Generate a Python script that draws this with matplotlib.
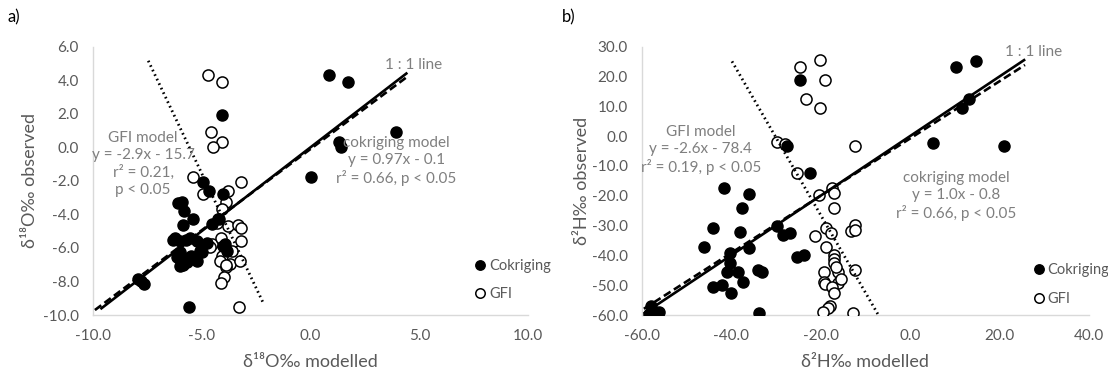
import numpy as np
import matplotlib
matplotlib.use('Agg')
import matplotlib.pyplot as plt

plt.rcParams['font.family'] = ['Lato', 'DejaVu Sans']

# ---- panel a: d18O ----
A_COK_X = [-7.91, -7.65, -7.80, -6.22, -5.99, -6.14, -5.68, -5.99, -5.84, -6.07,
           -5.91, -5.81, -5.38, -5.84, -5.53, -5.20, -4.77, -5.23, -5.07, -4.54,
           -4.20, -3.93, -3.85, -4.00, -4.92, -4.64, -4.02, -5.56, -4.07, 0.84,
           1.74, 3.92, 1.31, 1.41, 0.03, -6.30, -5.70, -6.00, -5.50, -5.80, -5.00]
A_COK_Y = [-7.86, -8.15, -7.95, -5.43, -6.26, -6.56, -6.86, -7.06, -7.00, -3.32,
           -3.24, -3.78, -4.28, -4.63, -5.43, -5.60, -5.71, -6.76, -6.17, -4.57,
           -4.30, -5.77, -6.17, -5.90, -2.09, -2.59, -2.78, -9.50, 1.93, 4.30,
           3.90, 0.90, 0.30, 0.00, -1.80, -5.50, -5.50, -5.60, -6.50, -6.60, -6.26]
A_GFI_X = [-4.73, -4.07, -4.56, -4.07, -4.48, -5.38, -4.92, -3.77, -3.20, -3.87,
           -4.07, -4.24, -3.81, -3.35, -3.20, -4.53, -4.10, -3.20, -4.61, -4.08,
           -4.16, -3.70, -3.24, -3.90, -3.99, -4.10, -3.27, -4.30, -3.60, -3.90]
A_GFI_Y = [4.30, 3.90, 0.90, 0.30, 0.00, -1.79, -2.78, -2.62, -2.09, -3.28,
           -3.68, -4.28, -4.67, -4.63, -4.81, -5.77, -5.41, -5.57, -5.96, -6.46,
           -6.76, -6.96, -6.76, -7.16, -7.75, -8.09, -9.54, -4.50, -6.20, -7.00]
A_ONE_X = [-9.6, 4.4]
A_COK_FIT = (0.97, -0.1, -9.9, 4.45)   # slope, intercept, x0, x1
A_GFI_LINE_X = [-7.45, -2.15]
A_GFI_LINE_Y = [5.16, -9.34]

# ---- panel b: d2H ----
B_COK_X = [-57.8, -56.1, -58.3, -46.0, -44.0, -41.5, -36.0, -37.6, -38.0, -29.75,
           -28.4, -26.9, -35.9, -25.3, -23.6, -40.2, -40.2, -38.4, -40.9, -33.9,
           -33.1, -37.4, -42.1, -44.0, -40.1, -33.7, -27.5, -22.4, -24.5, 10.2,
           14.7, 13.2, 11.6, 5.2, 21.0]
B_COK_Y = [-57.0, -58.9, -59.5, -37.1, -30.9, -17.5, -19.4, -24.2, -32.1, -30.2,
           -33.2, -32.6, -37.6, -40.7, -39.9, -39.3, -42.6, -45.5, -45.5, -44.9,
           -45.5, -48.8, -49.9, -50.5, -52.7, -59.2, -3.2, -12.5, 18.8, 23.3,
           25.3, 12.3, 9.3, -2.2, -3.2]
B_GFI_X = [-24.7, -20.2, -18.9, -23.2, -20.2, -29.75, -28.0, -25.3, -12.2, -20.4,
           -17.4, -17.1, -17.1, -21.2, -18.7, -17.6, -13.1, -12.2, -12.2, -18.7,
           -17.1, -17.1, -17.1, -19.3, -16.0, -12.2, -19.3, -18.9, -16.0, -17.4,
           -17.1, -18.0, -18.4, -19.4, -12.7, -16.5, -15.5]
B_GFI_Y = [23.3, 25.5, 18.8, 12.3, 9.3, -1.9, -2.5, -12.5, -3.3, -19.8,
           -17.5, -19.2, -24.2, -33.5, -30.9, -32.4, -31.7, -29.8, -31.5, -37.3,
           -39.9, -41.3, -42.6, -45.5, -45.5, -44.9, -48.8, -49.5, -49.4, -50.5,
           -52.7, -57.0, -57.8, -58.9, -59.2, -44.0, -48.0]
B_ONE_X = [-59.3, 25.5]
B_COK_FIT = (0.96, -0.8, -59.5, 25.7)
B_GFI_FIT = (-2.6, -78.4, -39.8, -7.2)

TICK_COL = '#595959'
NOTE_COL = '#7f7f7f'
SPINE_COL = '#d9d9d9'

fig = plt.figure(figsize=(11.08, 3.72), dpi=100, facecolor='white')
ax_a = fig.add_axes([0.0837, 0.1532, 0.3931, 0.7213])
ax_b = fig.add_axes([0.5791, 0.1532, 0.4037, 0.7213])


def style(ax, xlim, xticks, ylim, yticks, xlabel, ylabel, ylab_x):
    ax.set_xlim(*xlim)
    ax.set_ylim(*ylim)
    ax.set_xticks(xticks)
    ax.set_xticklabels([f'{t:.1f}' for t in xticks])
    ax.set_yticks(yticks)
    ax.set_yticklabels([f'{t:.1f}' for t in yticks])
    for s in ('top', 'right'):
        ax.spines[s].set_visible(False)
    for s in ('left', 'bottom'):
        ax.spines[s].set_color(SPINE_COL)
        ax.spines[s].set_linewidth(1.0)
    ax.tick_params(length=0, colors=TICK_COL, labelsize=11, pad=10)
    ax.set_xlabel(xlabel, color=TICK_COL, fontsize=13)
    ax.set_ylabel(ylabel, color=TICK_COL, fontsize=13)
    ax.xaxis.set_label_coords(0.5, -0.175)
    ax.xaxis.label.set_va('center')
    ax.yaxis.set_label_coords(ylab_x, 0.5)
    ax.yaxis.label.set_va('center')


def draw(ax, cx, cy, gx, gy, one_x, fit, dot_x, dot_y, leg_x, leg_y):
    ax.plot(gx, gy, 'o', ms=8, mfc='white', mec='black', mew=1.1,
            ls='none', label='GFI', zorder=3)
    ax.plot(cx, cy, 'o', ms=8, mfc='black', mec='black', mew=1.0,
            ls='none', label='Cokriging', zorder=4)
    ax.plot(one_x, one_x, color='black', lw=1.9, zorder=5)
    k, b, x0, x1 = fit
    fx = np.array([x0, x1])
    ax.plot(fx, k * fx + b, color='black', lw=1.9, ls=(0, (3, 1.5)), zorder=5)
    ax.plot(dot_x, dot_y, color='black', lw=2.0, ls=(0, (0.6, 1.2)),
            dash_capstyle='butt', zorder=5)
    h, l = ax.get_legend_handles_labels()
    ax.legend(h[::-1], l[::-1], loc='center left', bbox_to_anchor=(leg_x, leg_y),
              frameon=False, fontsize=10.5, handlelength=0.8, handletextpad=0.2,
              labelspacing=1.0, borderpad=0, labelcolor=TICK_COL, markerscale=0.85)


draw(ax_a, A_COK_X, A_COK_Y, A_GFI_X, A_GFI_Y, A_ONE_X, A_COK_FIT,
     A_GFI_LINE_X, A_GFI_LINE_Y, 0.860, 0.130)
k, b, x0, x1 = B_GFI_FIT
draw(ax_b, B_COK_X, B_COK_Y, B_GFI_X, B_GFI_Y, B_ONE_X, B_COK_FIT,
     [x0, x1], [k * x0 + b, k * x1 + b], 0.859, 0.114)

style(ax_a, (-10, 10), [-10, -5, 0, 5, 10], (-10, 6), np.arange(-10, 7, 2),
      'δ¹⁸O‰ modelled', 'δ¹⁸O‰ observed', -0.144)
style(ax_b, (-60, 40), [-60, -40, -20, 0, 20, 40], (-60, 30),
      np.arange(-60, 31, 10), 'δ²H‰ modelled', 'δ²H‰ observed', -0.134)

note = dict(color=NOTE_COL, fontsize=11, ha='center', va='center',
            linespacing=1.25, zorder=6)
ax_a.text(-7.69, -1.0, 'GFI model\ny = -2.9x - 15.7\nr² = 0.21,\np < 0.05', **note)
ax_a.text(3.93, -0.82, 'cokriging model\ny = 0.97x - 0.1\nr² = 0.66, p < 0.05', **note)
ax_a.text(4.75, 4.93, '1 : 1 line', **note)
ax_b.text(-46.8, -4.7, 'GFI model\ny = -2.6x - 78.4\nr² = 0.19, p < 0.05', **note)
ax_b.text(10.4, -20.1, 'cokriging model\ny = 1.0x - 0.8\nr² = 0.66, p < 0.05', **note)
ax_b.text(27.6, 28.3, '1 : 1 line', **note)

fig.text(0.007, 1 - 17 / 372, 'a)', fontsize=12, color='black', va='center')
fig.text(0.507, 1 - 17 / 372, 'b)', fontsize=12, color='black', va='center')

fig.savefig('out.png', dpi=100, facecolor='white')
